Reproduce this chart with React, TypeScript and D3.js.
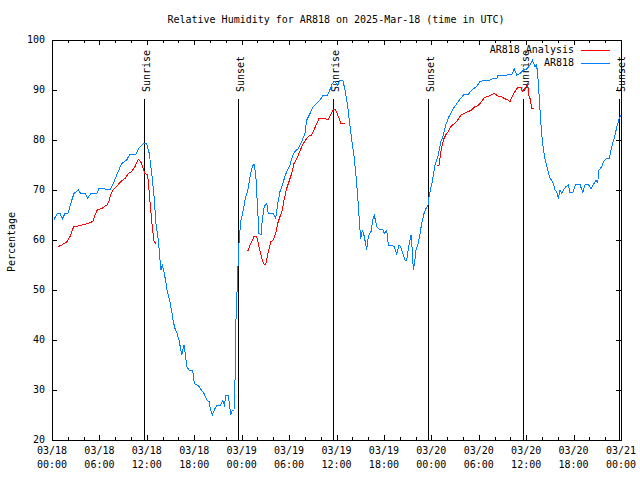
import React from "react";
import * as d3 from "d3";

// ---- data (hours since 2025-03-18 00:00 UTC, relative humidity %) ----
const obsHours = [
  0.25, 0.67, 1.01, 1.3, 1.65, 2.06, 2.37, 2.78, 3.33, 3.63, 4.18, 4.52, 4.9, 5.66, 5.95, 6.71, 7.34, 7.76,
  8.19, 8.82, 9.45, 9.87, 10.63, 10.92, 11.55, 11.98, 12.31, 12.62, 12.91, 13.16, 13.45, 13.67, 13.79, 13.96,
  14.17, 14.43, 14.59, 14.84, 15.15, 15.35, 15.56, 15.86, 16.11, 16.41, 16.7, 16.87, 17.05, 17.34, 17.8,
  18.01, 18.31, 18.64, 18.94, 19.23, 19.58, 19.87, 20.08, 20.28, 20.63, 20.92, 21.35, 21.6, 21.8, 22.02,
  22.27, 22.44, 22.61, 22.78, 23.03, 23.16, 23.28, 23.45, 23.57, 23.66, 23.79, 23.92, 24.21, 24.51, 24.76,
  25.06, 25.35, 25.56, 25.78, 25.98, 26.19, 26.45, 26.61, 26.86, 27.17, 27.37, 28.0, 28.31, 28.56, 28.85,
  29.14, 29.48, 29.77, 30.12, 30.41, 30.75, 31.17, 31.6, 32.01, 32.23, 32.65, 33.06, 33.5, 33.91, 34.33,
  34.89, 35.18, 35.47, 35.81, 36.1, 36.44, 36.79, 37.08, 37.37, 37.62, 37.92, 38.22, 38.47, 38.68, 38.85,
  39.06, 39.27, 39.52, 39.82, 40.02, 40.37, 40.58, 40.78, 41.09, 41.42, 41.85, 42.05, 42.35, 42.56, 42.98,
  43.28, 43.62, 43.91, 44.12, 44.38, 44.67, 44.88, 45.17, 45.43, 45.59, 45.72, 45.9, 46.06, 46.35, 46.57,
  46.78, 47.07, 47.33, 47.58, 47.74, 48.12, 48.47, 48.88, 49.22, 49.52, 49.82, 50.24, 50.78, 51.41, 52.05,
  52.68, 53.11, 53.74, 54.16, 54.79, 55.42, 55.84, 56.27, 56.47, 57.54, 58.17, 58.5, 58.8, 59.22, 59.64,
  60.07, 60.49, 60.78, 61.12, 61.33, 61.53, 61.75, 61.97, 62.17, 62.38, 62.68, 63.02, 63.36, 63.65, 63.87,
  64.07, 64.29, 64.5, 64.7, 65.05, 65.33, 65.55, 65.89, 66.27, 66.81, 67.16, 67.45, 67.87, 68.21, 68.5,
  68.84, 69.05, 69.22, 69.56, 69.85, 70.1, 70.52, 70.7, 70.95, 71.24, 71.53, 71.78, 71.96,
];
const obsRH = [
  64.1, 65.3, 65.3, 64.2, 65.3, 65.4, 67.3, 69.3, 70, 69.3, 69.3, 68.3, 69.3, 69.3, 70.3, 70.2, 70.1, 71.3,
  73, 75.3, 76, 77.2, 77.2, 78.2, 79.2, 79.3, 77.3, 73.3, 68.7, 63.3, 60, 56, 54, 55,
  53.7, 51.3, 49.7, 48.3, 45.7, 43.7, 42.3, 41.2, 39.7, 37, 39, 37.3, 34.7, 34, 34,
  31.3, 31, 30.7, 29.9, 29.3, 28, 27.7, 26, 25, 26.3, 27, 27, 27.9, 27, 29,
  29, 27.3, 25, 25.8, 26, 32, 44, 51.3, 56, 59.3, 62, 64, 66, 68.7, 69.7,
  72.7, 74.7, 75.2, 73.3, 67.3, 61.3, 61, 64, 66.7, 67.3, 65.3, 65.3, 64.3, 67.3, 69.7,
  71, 72.7, 74, 75, 76.7, 77.7, 78.3, 79.7, 81.3, 84, 85.3, 86.7, 87.3, 88, 89,
  89, 90.1, 91.3, 91.7, 91, 92, 92, 90, 87.3, 84, 80, 76.7, 72.7, 68.7, 64.7,
  60.3, 62, 60.7, 58, 60.7, 61.7, 64, 65, 62.7, 62.1, 62.1, 61.3, 61.9, 59, 59,
  58.7, 57.2, 59, 58.7, 57.3, 56, 56, 59, 61, 58, 54, 55.7, 58, 59.3, 61.3,
  63.3, 65.3, 66.3, 67, 69, 71.7, 75, 77, 79.7, 81, 83, 84.7, 86.3, 87.7, 89,
  89.1, 90, 90.7, 91.7, 92, 92, 92.3, 92.3, 93, 93, 93.1, 94.2, 93, 93.3, 94,
  94.2, 95, 96, 94.7, 95, 91.7, 86, 81, 78.3, 76.3, 74.3, 72.3, 71.7, 70, 69.7,
  68.3, 70, 69.3, 70, 70.7, 71, 69.5, 69.5, 71.1, 71.1, 69.5, 71.1, 71.1, 70.2, 71.1,
  72, 71.5, 74, 74.7, 75.8, 76.2, 76.3, 77.7, 79.3, 81, 83, 84.3, 85,
];

// analysis (null = gap between runs)
const anaHours = [
  0.8, 1.23, 1.52, 1.94, 2.28, 2.57, 2.78, 3.33, 3.96, 4.59, 5.15, 5.44, 5.73, 6.29, 6.71, 7.0, 7.25, 7.47,
  7.76, 8.19, 8.69, 9.24, 9.66, 10.09, 10.5, 10.92, 11.22, 11.55, 11.77, 12.11, 12.27, 12.49, 12.69, 12.91, 13.16,
  18.0,
  24.76, 25.06, 25.35, 25.6, 25.9, 26.19, 26.54, 26.86, 27.08, 27.37, 27.71, 28.0, 28.31, 28.56, 28.85, 29.14,
  29.4, 29.7, 29.99, 30.33, 30.62, 30.88, 31.17, 31.51, 31.8, 32.1, 32.43, 32.86, 33.15, 33.5, 33.79, 34.33,
  34.96, 35.27, 35.6, 35.9, 36.23, 36.57, 37.08,
  42.0,
  48.68, 48.97, 49.22, 49.52, 49.82, 50.15, 50.49, 50.91, 51.34, 51.76, 52.17, 52.68, 53.11, 53.53, 53.94,
  54.37, 54.7, 55.13, 55.55, 55.97, 56.4, 56.82, 57.23, 57.67, 57.96, 58.25, 58.59, 58.93, 59.31, 59.56,
  59.86, 60.2, 60.28, 60.49, 60.7, 61.03,
];
const anaRH: (number | null)[] = [
  58.7, 59, 59.3, 59.7, 60.7, 62, 62.7, 62.8, 63.1, 63.3, 63.7, 65, 66, 66.3, 66.8, 67, 68, 69.3,
  70.1, 70.7, 71.7, 72.3, 73.3, 73.7, 74.7, 76.1, 75.7, 74.3, 73.3, 73, 70, 66, 62.7, 59.7, 59.3,
  null,
  57.7, 59, 60, 60.8, 60.7, 58.7, 56.3, 55, 55.3, 57.7, 59.7, 60, 61.3, 63.3, 64.7, 66,
  68.3, 70.3, 71.7, 73.3, 75.3, 76, 77, 78.3, 79.3, 80, 80.7, 81, 82, 83.3, 84.3, 84.3,
  84.1, 85, 86.1, 86, 84.7, 83.3, 83.3,
  null,
  75, 75, 77.7, 80, 81, 81.7, 82.7, 83.3, 84, 85, 85.3, 85.7, 86, 86.7, 86.9,
  87.7, 88.5, 88.7, 89, 89.3, 88.8, 88.7, 88.3, 88, 87.7, 88.7, 89.7, 90.5, 90.5, 89.8,
  90.3, 91.3, 89, 88.3, 86.3, 86.3,
];

const sunHours = [11.68, 23.57, 35.6, 47.6, 59.6, 71.72];
const sunLabels = ["Sunrise", "Sunset", "Sunrise", "Sunset", "Sunrise", "Sunset"];

const xTickDates = ["03/18", "03/18", "03/18", "03/18", "03/19", "03/19", "03/19", "03/19", "03/20", "03/20", "03/20", "03/20", "03/21"];
const xTickTimes = ["00:00", "06:00", "12:00", "18:00", "00:00", "06:00", "12:00", "18:00", "00:00", "06:00", "12:00", "18:00", "00:00"];
const yTicks = [20, 30, 40, 50, 60, 70, 80, 90, 100];

const seriesNames = ["AR818 Analysis", "AR818"];
const seriesColors = ["#ff0000", "#0080ff"];

const titleText = "Relative Humidity for AR818 on 2025-Mar-18 (time in UTC)";
const yLabelText = "Percentage";

export default function App() {
  const W = 640, H = 480;
  const L = 52, R = 621, T = 40, B = 440;
  const font = "'DejaVu Sans Mono', 'Liberation Mono', monospace";
  const fs = 10;

  const x = d3.scaleLinear().domain([0, 72]).range([L, R]);
  const y = d3.scaleLinear().domain([20, 100]).range([B, T]);

  const obsLine = d3
    .line<number>()
    .x((_, i) => x(obsHours[i]))
    .y((d) => y(d))(obsRH) as string;

  const anaLine = d3
    .line<number | null>()
    .defined((d) => d !== null)
    .x((_, i) => x(anaHours[i]))
    .y((d) => y(d as number))(anaRH) as string;

  const minorHours = d3.range(0, 73, 2);

  return (
    <svg
      width={W}
      height={H}
      style={{ position: "absolute", left: 0, top: 0, background: "#fff" }}
      fontFamily={font}
      fontSize={fs}
    >
      <rect x={0} y={0} width={W} height={H} fill="#fff" />
      <text x={336} y={20} textAnchor="middle" dominantBaseline="middle" fill="#000">
        {titleText}
      </text>
      <text
        transform={`translate(12,242) rotate(-90)`}
        textAnchor="middle"
        dominantBaseline="middle"
        fill="#000"
      >
        {yLabelText}
      </text>

      {/* y ticks & labels */}
      {yTicks.map((v) => (
        <g key={"y" + v} shapeRendering="crispEdges">
          <line x1={L} x2={L + 5} y1={Math.round(y(v)) + 0.5} y2={Math.round(y(v)) + 0.5} stroke="#000" />
          <line x1={R - 5} x2={R} y1={Math.round(y(v)) + 0.5} y2={Math.round(y(v)) + 0.5} stroke="#000" />
          <text x={45} y={y(v)} textAnchor="end" dominantBaseline="middle" fill="#000">
            {v}
          </text>
        </g>
      ))}

      {/* x ticks */}
      {minorHours.map((h) => {
        const len = h % 6 === 0 ? 5 : 3;
        const xp = Math.round(x(h)) + 0.5;
        return (
          <g key={"xt" + h} shapeRendering="crispEdges">
            <line x1={xp} x2={xp} y1={B} y2={B - len} stroke="#000" />
            <line x1={xp} x2={xp} y1={T} y2={T + len} stroke="#000" />
          </g>
        );
      })}
      {xTickDates.map((d, i) => (
        <g key={"xl" + i}>
          <text x={x(i * 6)} y={451} textAnchor="middle" dominantBaseline="middle" fill="#000">
            {d}
          </text>
          <text x={x(i * 6)} y={465} textAnchor="middle" dominantBaseline="middle" fill="#000">
            {xTickTimes[i]}
          </text>
        </g>
      ))}

      {/* sunrise / sunset */}
      {sunHours.map((h, i) => {
        const xp = Math.round(x(h)) + 0.5;
        return (
          <g key={"sun" + i}>
            <line x1={xp} x2={xp} y1={99} y2={B} stroke="#000" shapeRendering="crispEdges" />
            <text transform={`translate(${xp + 5},92) rotate(-90)`} textAnchor="start" fill="#000">
              {sunLabels[i]}
            </text>
          </g>
        );
      })}

      {/* data */}
      <path d={anaLine} fill="none" stroke={seriesColors[0]} strokeWidth={1} shapeRendering="crispEdges" />
      <path d={obsLine} fill="none" stroke={seriesColors[1]} strokeWidth={1} shapeRendering="crispEdges" />

      {/* legend */}
      {seriesNames.map((n, i) => (
        <g key={"lg" + i}>
          <text x={574} y={50 + i * 13} textAnchor="end" dominantBaseline="middle" fill="#000">
            {n}
          </text>
          <line
            x1={581}
            x2={610}
            y1={50.5 + i * 13}
            y2={50.5 + i * 13}
            stroke={seriesColors[i]}
            shapeRendering="crispEdges"
          />
        </g>
      ))}

      {/* frame */}
      <rect x={L + 0.5} y={T + 0.5} width={R - L} height={B - T} fill="none" stroke="#000" shapeRendering="crispEdges" />
    </svg>
  );
}
